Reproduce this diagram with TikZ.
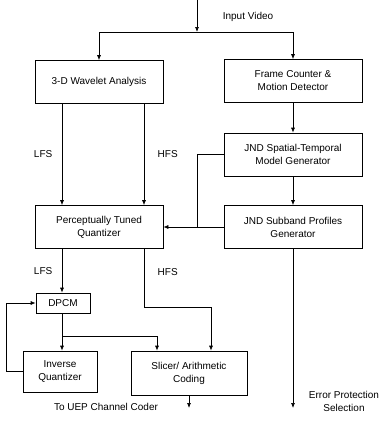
\documentclass[tikz,border=0pt]{standalone}
\usepackage{fontspec}
\setmainfont{Liberation Sans}
\usetikzlibrary{calc, positioning, arrows.meta}
\tikzset{
	block/.style = {draw, line width=0.7pt, align=center, inner sep=2pt,
		minimum width=#1, minimum height=43pt},
	block/.default = 138pt,
	flow/.style = {line width=0.7pt, -{Latex[length=5pt,width=4pt]}},
	tag/.style = {font=\fontsize{10}{13}\selectfont, align=center},
}

\begin{document}
\begin{tikzpicture}[x=1pt, y=-1pt, every node/.style={font=\fontsize{10}{13}\selectfont}]
			\useasboundingbox (0,0) rectangle (378,426);
			% boxes
			\node[block=128pt] (wavelet) at (99,82) {3-D Wavelet Analysis};
			\node[block] (frame) at (293,81) {Frame Counter \&\\Motion Detector};
			\node[block] (jndmodel) at (293,154.5) {JND Spatial-Temporal\\Model Generator};
			\node[block=128pt] (quantizer) at (99,227) {Perceptually Tuned\\Quantizer};
			\node[block] (jndprofile) at (293,227) {JND Subband Profiles\\Generator};
			\node[block=54pt, minimum height=20pt] (dpcm) at (63,303) {DPCM};
			\node[block=74pt, minimum height=41pt] (invquant) at (60,371.5) {Inverse\\Quantizer};
			\node[block=116pt, minimum height=44pt] (slicer) at (189,373) {Slicer/ Arithmetic\\Coding};
			% labels
			\node[tag] (inlabel) at (248,17) {Input Video};
			\node[tag] (uep) at (106,407) {To UEP Channel Coder};
			\node[tag] (eplabel) at (344,401) {Error Protection\\Selection};
			% helper points
			\coordinate (in) at (197,0);
			\coordinate (split) at (197,32);
			\coordinate (lfs) at (62,0);
			\coordinate (hfs) at (144,0);
			\coordinate (fb) at (197,0);
			\coordinate (bend) at (211,307);
			\coordinate (tap) at (62,336);
			\coordinate (join) at (157,0);
			\coordinate (coder) at (189,408);
			\coordinate (protect) at (293,408);
			% connectors
			\draw[flow] (in) -- (split);
			\draw[flow] (split) -| (wavelet.north);
			\draw[flow] (split) -| (frame.north);
			\draw[flow] (lfs |- wavelet.south) -- (lfs |- quantizer.north) node [midway, left=6pt] {LFS};
			\draw[flow] (hfs |- wavelet.south) -- (hfs |- quantizer.north) node [midway, right=10pt] {HFS};
			\draw[flow] (frame) -- (jndmodel);
			\draw[flow] (jndmodel) -- (jndprofile);
			\draw[flow] (jndprofile) -- (quantizer);
			\draw[line width=0.7pt] (jndmodel.west) -| (fb |- jndprofile.west);
			\draw[flow] (lfs |- quantizer.south) -- (lfs |- dpcm.north) node [midway, left=6pt] {LFS};
			\draw[flow] (hfs |- quantizer.south) -- node [pos=0.4, right=10pt] {HFS} (hfs |- bend) -| (bend |- slicer.north);
			\draw[flow] (lfs |- dpcm.south) -- (lfs |- invquant.north);
			\draw[flow] (tap) -| (join |- slicer.north);
			\draw[flow] (invquant.west) -- ++(-16,0) |- (dpcm.west);
			\draw[flow] (slicer.south) -- (coder);
			\draw[flow] (jndprofile.south) -- (protect);
		\end{tikzpicture}
\end{document}
